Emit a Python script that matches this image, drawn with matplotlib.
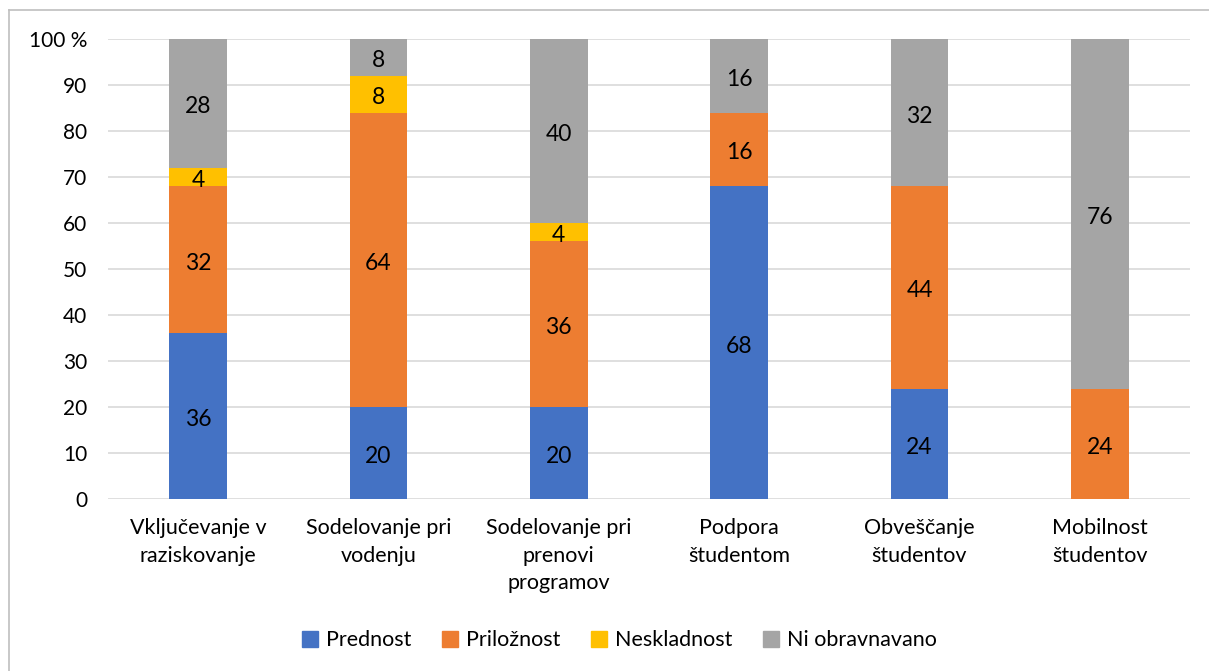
import matplotlib.pyplot as plt
import numpy as np
from matplotlib.lines import Line2D
from matplotlib.transforms import offset_copy

plt.rcParams['font.family'] = ['Lato', 'DejaVu Sans']

categories = ['Vključevanje v\nraziskovanje', 'Sodelovanje pri\nvodenju',
              'Sodelovanje pri\nprenovi\nprogramov', 'Podpora\nštudentom',
              'Obveščanje\nštudentov', 'Mobilnost\nštudentov']
prednost = [36, 20, 20, 68, 24, 0]
prilożnost = [32, 64, 36, 16, 44, 24]
neskladnost = [4, 8, 4, 0, 0, 0]
ni_obravnavano = [28, 8, 40, 16, 32, 76]

series = [('Prednost', prednost, '#4472C4'),
          ('Priložnost', prilożnost, '#ED7D31'),
          ('Neskladnost', neskladnost, '#FFC000'),
          ('Ni obravnavano', ni_obravnavano, '#A5A5A5')]

fig = plt.figure(figsize=(12.09, 6.71), dpi=100)
ax = fig.add_axes([0.0893, 0.2563, 0.895, 0.6856])

# nudge value labels down a little, like the original's font metrics
lbl_tr = offset_copy(ax.transData, fig=fig, x=0, y=-2.5, units='points')

x = np.arange(len(categories))
bottom = np.zeros(len(categories))
for name, vals, color in series:
    vals = np.array(vals, dtype=float)
    ax.bar(x, vals, width=0.32, bottom=bottom, color=color, label=name, zorder=2)
    for xi, b, v in zip(x, bottom, vals):
        if v > 0:
            ax.text(xi, b + v / 2, f'{int(v)}', ha='center', va='center',
                    fontsize=16.5, color='black', zorder=3, transform=lbl_tr)
    bottom += vals

ax.set_xlim(-0.5, len(categories) - 0.5)
ax.set_ylim(0, 100)
ax.set_yticks(range(0, 101, 10))
ax.set_yticklabels([str(v) for v in range(0, 100, 10)] + ['100 %'], fontsize=15)
ax.set_xticks(x)
ax.set_xticklabels(categories, fontsize=15.5, linespacing=1.45)
ax.tick_params(axis='both', length=0)
ax.tick_params(axis='y', pad=15)
ax.tick_params(axis='x', pad=14)
ax.grid(axis='y', color='#D9D9D9', linewidth=1.2, zorder=0)
for s in ax.spines.values():
    s.set_visible(False)

handles = [Line2D([], [], marker='s', linestyle='none', markersize=11,
                  color=c) for _, _, c in series]
fig.legend(handles, [n for n, _, _ in series], loc='center',
           bbox_to_anchor=(0.513, 0.046), ncol=4, frameon=False,
           fontsize=15.5, handlelength=0.6, handletextpad=0.45,
           columnspacing=1.5)

# chart frame
fig.add_artist(Line2D([9 / 1209, 9 / 1209], [0, 1 - 10 / 671],
                      transform=fig.transFigure, color='#BFBFBF', linewidth=1.2))
fig.add_artist(Line2D([9 / 1209, 1], [1 - 10 / 671, 1 - 10 / 671],
                      transform=fig.transFigure, color='#BFBFBF', linewidth=1.2))

fig.savefig('out.png', dpi=100)
